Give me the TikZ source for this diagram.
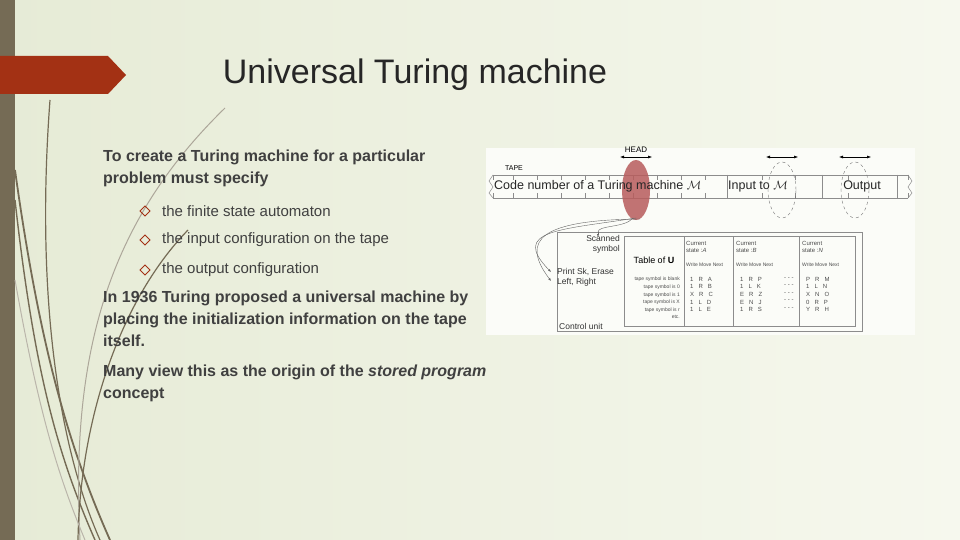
\documentclass[tikz,border=0pt]{standalone}
\usepackage{fontspec}
\setmainfont{Liberation Sans}
\usetikzlibrary{arrows.meta}
\definecolor{bar}{HTML}{756B55}
\definecolor{rib}{HTML}{A33114}
\definecolor{txt}{HTML}{404040}
\definecolor{bgA}{HTML}{E6EBD6}
\definecolor{bgB}{HTML}{F6F8EE}
\definecolor{headc}{HTML}{B85C5C}
\begin{document}
\begin{tikzpicture}[x=1pt,y=-1pt,
  body/.style={anchor=north west,font=\fontsize{16}{22}\selectfont\bfseries,text=txt,align=left,inner sep=0},
  bul/.style={anchor=west,font=\fontsize{15}{18}\selectfont,text=txt,inner sep=0},
  sm/.style={font=\fontsize{8.5}{10}\selectfont,inner sep=0,text=black!80},
  tiny/.style={font=\fontsize{6}{7.6}\selectfont,inner sep=0,text=black!70},
  grey/.style={draw=black!45,line width=0.5pt}]
\useasboundingbox (0,0) rectangle (960,540);
\shade[left color=bgA,right color=bgB] (0,0) rectangle (960,540);
\fill[bar] (0,0) rectangle (15,540);
% swooshes
\draw[bar,line width=1.2pt] (50,100) .. controls (35,300) and (60,450) .. (100,540);
\draw[bar,line width=1.8pt] (15,170) .. controls (40,350) and (70,450) .. (110,540);
\draw[bar,line width=1.4pt] (15,200) .. controls (35,380) and (60,460) .. (95,540);
\draw[bar!60,line width=1pt] (225,108) .. controls (110,220) and (70,350) .. (80,540);
\draw[bar,line width=1.2pt] (188,230) .. controls (120,300) and (80,420) .. (78,540);
\draw[bar!50,line width=1pt] (15,280) .. controls (40,420) and (60,480) .. (85,540);
% ribbon
\fill[rib] (0,56) -- (108,56) -- (126,75) -- (108,94) -- (0,94) -- cycle;
\node[font=\fontsize{34}{40}\selectfont,text=black!85] (title) at (415,75) {Universal Turing machine};
\node[body] (p1) at (103,150) {To create a Turing machine for a particular\\problem must specify};
\node[bul] (b1) at (162,211) {the finite state automaton};
\node[bul] (b2) at (162,240) {the input configuration on the tape};
\node[bul] (b3) at (162,270) {the output configuration};
\foreach \y in {211,240,270}{\draw[rib,line width=0.9pt] (145,\y-5) -- (150,\y) -- (145,\y+5) -- (140,\y) -- cycle;}
\node[body] (p2) at (103,291) {In 1936 Turing proposed a universal machine by\\placing the initialization information on the tape\\itself.};
\node[body] (p3) at (103,365) {Many view this as the origin of the \textit{stored program}\\concept};
% ---- diagram ----
\fill[white!60!bgB] (486,148) rectangle (915,335);
\draw[grey] (493,175) -- (908,175) (493,198) -- (908,198);
\foreach \x in {493,513,537,561,585,609,633,657,681,705,727,762,795,822,848,897,908}{\draw[grey] (\x,175) -- (\x,180) (\x,193) -- (\x,198);}
\foreach \x in {727,822,897}{\draw[grey] (\x,175) -- (\x,198);}
\draw[grey] (493,175) -- (489,181) -- (493,187) -- (489,193) -- (493,198);
\draw[grey] (908,175) -- (912,181) -- (908,187) -- (912,193) -- (908,198);
\node[font=\fontsize{7}{8}\selectfont,inner sep=0] (tape) at (514,168) {TAPE};
\fill[headc,opacity=0.85] (636,190) ellipse (14 and 30);
\node[font=\fontsize{12.5}{14}\selectfont,inner sep=0,text=black!85,anchor=west] (t1) at (494,186) {Code number of a Turing machine $\mathcal{M}$};
\node[font=\fontsize{12.5}{14}\selectfont,inner sep=0,text=black!85,anchor=west] (t2) at (728,186) {Input to $\mathcal{M}$};
\node[font=\fontsize{12.5}{14}\selectfont,inner sep=0,text=black!85] (t3) at (862,186) {Output};
\node[font=\fontsize{8}{9}\selectfont,inner sep=0] (head) at (636,150) {HEAD};
\draw[{Latex[length=4pt]}-{Latex[length=4pt]},line width=0.5pt] (620,157) -- (652,157);
\foreach \c in {782,855}{
 \draw[dashed,black!55,line width=0.4pt] (\c,190) ellipse (14 and 28);
 \draw[{Latex[length=4pt]}-{Latex[length=4pt]},line width=0.5pt] (\c-16,157) -- (\c+16,157);}
% control unit
\draw[grey] (557,232) rectangle (862,331);
\draw[grey] (624,236) rectangle (855,326);
\draw[grey] (684,236) -- (684,326) (733,236) -- (733,326) (799,236) -- (799,326);
\draw[black!60,line width=0.4pt] (633,218) .. controls (625,228) and (598,225) .. (598,232);
\draw[-{Latex[length=3pt]},black!60,line width=0.4pt] (598,232) -- (598,237);
\draw[-{Latex[length=3pt]},black!60,line width=0.4pt] (636,218) .. controls (560,230) and (510,230) .. (551,272);
\draw[-{Latex[length=3pt]},black!60,line width=0.4pt] (640,219) .. controls (540,220) and (520,240) .. (551,281);
\node[sm,align=right,anchor=north east] (ss) at (620,235) {Scanned\\symbol};
\node[sm,align=left,anchor=north west] (pe) at (557,268) {Print Sk, Erase\\Left, Right};
\node[sm,anchor=south west] (cu) at (559,330) {Control unit};
\node[font=\fontsize{9}{10}\selectfont,inner sep=0] (tu) at (654,260) {Table of \textbf{U}};
\foreach \x/\s in {686/{\itshape A},736/{\itshape B},802/{\itshape N}}{
 \node[tiny,anchor=north west,align=left] at (\x,241) {Current\\state :\s};
 \node[tiny,anchor=north west,font=\fontsize{5}{6}\selectfont] at (\x,263) {Write Move Next};}
\node[tiny,anchor=north east,align=right,font=\fontsize{5}{7.6}\selectfont] (rows) at (680,277) {tape symbol is blank\\tape symbol is 0\\tape symbol is 1\\tape symbol is X\\tape symbol is r\\etc.};
\node[tiny,anchor=north west,align=left] at (690,277) {1\ \ \ R\ \ \ A\\1\ \ \ R\ \ \ B\\X\ \ \ R\ \ \ C\\1\ \ \ L\ \ \ D\\1\ \ \ L\ \ \ E};
\node[tiny,anchor=north west,align=left] at (740,277) {1\ \ \ R\ \ \ P\\1\ \ \ L\ \ \ K\\E\ \ \ R\ \ \ Z\\E\ \ \ N\ \ \ J\\1\ \ \ R\ \ \ S};
\node[tiny,anchor=north west,align=left] at (806,277) {P\ \ \ R\ \ \ M\\1\ \ \ L\ \ \ N\\X\ \ \ N\ \ \ O\\0\ \ \ R\ \ \ P\\Y\ \ \ R\ \ \ H};
\node[tiny,anchor=north west,align=left] at (784,277) {- - -\\- - -\\- - -\\- - -\\- - -};
\end{tikzpicture}
\end{document}
